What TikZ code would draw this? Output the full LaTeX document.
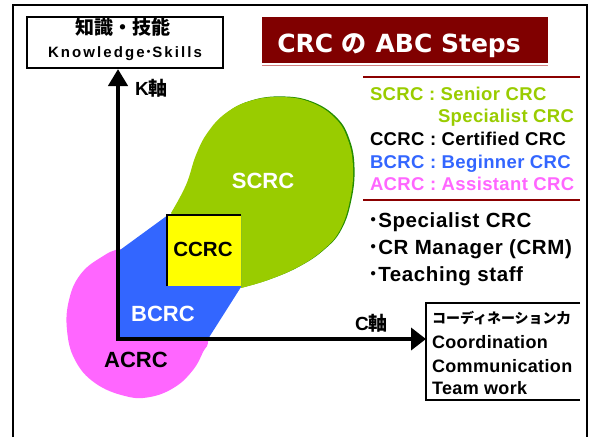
\documentclass[tikz,border=0pt]{standalone}
\usepackage{fontspec}
\setmainfont{Liberation Sans}
\newfontfamily\jp{Noto Sans CJK JP}
\newfontfamily\titlefont{DejaVu Sans}
\usetikzlibrary{arrows.meta}
\definecolor{sgreen}{HTML}{99CC00}
\definecolor{dgreen}{HTML}{238C00}
\definecolor{bblue}{HTML}{3366FF}
\definecolor{apink}{HTML}{FF66FF}
\definecolor{cyellow}{HTML}{FFFF00}
\definecolor{darkred}{HTML}{800000}
\definecolor{rulered}{HTML}{8B0000}
\definecolor{shadowred}{HTML}{D08080}
\newcommand\fsz[1]{\fontsize{#1}{#1}\selectfont}
\newcommand\greenpath{plot[smooth, tension=0.7] coordinates {(241,288) (268,280) (298,267) (323,250) (340,230) (350,200) (353,168) (348,140) (335,118) (310,102) (280,97) (250,101) (226,113) (208,132) (196,155) (186,185) (171,213)} -- cycle}
\tikzset{
  txt/.style={inner sep=0pt, outer sep=0pt, font=\bfseries},
  axisline/.style={line width=4.5pt},
  frameline/.style={line width=2.5pt},
  legendrule/.style={line width=2pt, draw=rulered},
  legend/.style={txt, anchor=base west, font=\bfseries\fsz{18.5}\addfontfeature{LetterSpace=2}},
  bullet/.style={txt, anchor=base west, font=\bfseries\fsz{20.5}\addfontfeature{LetterSpace=3}},
  cskill/.style={txt, anchor=base west, font=\bfseries\fsz{18}\addfontfeature{LetterSpace=2}},
  blobtext/.style={txt, anchor=base, font=\bfseries\fsz{22}},
}
\begin{document}
\begin{tikzpicture}[x=1pt,y=-1pt]
\useasboundingbox (0,0) rectangle (591,437);
% outer frame
\draw[frameline] (13,437) -- (13,5) -- (587,5) -- (587,437);

% title
\draw[shadowred, line width=0.8pt] (262,65.5) -- (548,65.5);
\node[fill=darkred, minimum width=286pt, minimum height=46pt, inner sep=0pt, anchor=north west] (title) at (262,17) {};
\node[txt, white, anchor=base, font=\titlefont\bfseries\fsz{25}] (titletext) at (399,52) {CRC {\jp の} ABC Steps};

% knowledge box
\node[draw, line width=2pt, minimum width=196pt, minimum height=51pt, inner sep=0pt, anchor=north west] (kbox) at (26,16) {};
\node[txt, anchor=base, font=\jp\bfseries\fsz{19}] (ktitle) at (123,34) {知識・技能};
\node[txt, anchor=base, font=\bfseries\fsz{15}\addfontfeature{LetterSpace=14}] (ksub) at (125,57) {Knowledge{\jp ･}Skills};

% ACRC blob
\fill[apink] plot[smooth cycle, tension=0.7] coordinates {(122,249) (100,258) (80,275) (69,300) (67,330) (75,360) (95,383) (125,396) (150,397) (175,387) (193,370) (203,352) (208,338) (200,300) (150,255)};
% SCRC blob
\fill[dgreen, shift={(1.5,-0.6)}] \greenpath;
\fill[sgreen] \greenpath;
% BCRC region
\fill[bblue] (120,250) -- (168,215) -- (241,215) -- (241,287) -- (208,339) -- (120,339) -- cycle;
% CCRC square
\node[fill=cyellow, minimum width=74pt, minimum height=71pt, inner sep=0pt, anchor=north west] (ccrc) at (167,215) {};
\draw[line width=2pt] (ccrc.south west) -- (ccrc.north west) -- (ccrc.north east);
\node[txt, anchor=base, font=\bfseries\fsz{20.5}] (ccrctext) at (203,256) {CCRC};
\node[blobtext, white] (scrc) at (263,188) {SCRC};
\node[blobtext, white] (bcrc) at (163,321) {BCRC};
\node[blobtext] (acrc) at (136,367) {ACRC};

% coordination box
\node[minimum width=154pt, minimum height=97pt, inner sep=0pt, outer sep=0pt, anchor=north west] (cbox) at (426,303) {};
\draw[line width=2pt] (cbox.north east) -- (cbox.north west) -- (cbox.south west) -- (cbox.south east);
\node[txt, anchor=base west, font=\jp\bfseries\fsz{14}] (coordjp) at (432,323) {コーディネーション力};
\node[cskill] (coord) at (432,348) {Coordination};
\node[cskill] (comm) at (432,372) {Communication};
\node[cskill] (team) at (432,394) {Team work};

% axes
\coordinate (origin) at (118,339);
\draw[axisline, {Triangle[length=17pt,width=19pt]}-{Triangle[length=15pt,width=22pt]}] (origin |- kbox.south) -- (origin) -- (cbox.west |- origin);
\node[txt, anchor=base west, font=\bfseries\fsz{19}] (klabel) at (135,95) {K{\jp 軸}};
\node[txt, anchor=base west, font=\bfseries\fsz{19}] (clabel) at (355,330) {C{\jp 軸}};

% legend
\draw[legendrule] (363,77) -- (580,77);
\draw[legendrule] (363,200) -- (580,200);
\node[legend, sgreen] (lscrc) at (370,100) {SCRC : Senior CRC};
\node[legend, sgreen] (lspec) at (438,122) {Specialist CRC};
\node[legend] (lccrc) at (370,145) {CCRC : Certified CRC};
\node[legend, bblue] (lbcrc) at (370,168) {BCRC : Beginner CRC};
\node[legend, apink] (lacrc) at (370,190) {ACRC : Assistant CRC};
\node[bullet] (b1) at (368,227) {{\jp ･}Specialist CRC};
\node[bullet] (b2) at (368,254) {{\jp ･}CR Manager (CRM)};
\node[bullet] (b3) at (368,281) {{\jp ･}Teaching staff};
\end{tikzpicture}
\end{document}
